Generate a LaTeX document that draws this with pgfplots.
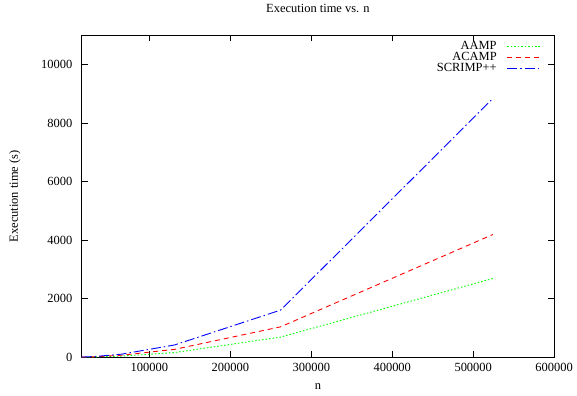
\documentclass[border=0pt]{standalone}
\usepackage{fontspec}
\setmainfont{Liberation Serif}
\usepackage{pgfplots}
\pgfplotsset{compat=1.18}
\begin{document}
\fontsize{12.5}{15}\selectfont
\begin{tikzpicture}
\begin{axis}[
  name=ax,
  scale only axis, width=474pt, height=323pt,
  xmin=16384, xmax=600000, ymin=0, ymax=11000,
  xtick={100000,200000,300000,400000,500000,600000},
  xticklabels={100000,200000,300000,400000,500000,600000},
  ytick={0,2000,4000,6000,8000,10000},
  yticklabels={0,2000,4000,6000,8000,10000},
  scaled ticks=false,
  tick align=inside, tick pos=both, major tick length=6pt,
  tick style={black, line width=0.6pt},
  axis line style={black, line width=1pt},
  minor tick num=0,
  title={Execution time vs. n},
  title style={at={(axis description cs:0.5,1)}, anchor=base, yshift=17pt},
  xlabel={n},
  xlabel style={at={(axis description cs:0.5,0)}, anchor=base, yshift=-32pt},
  ylabel={Execution time (s)},
  ylabel style={at={(axis description cs:0,0.5)}, anchor=center, yshift=67pt},
  yticklabel style={xshift=-5pt},
  xticklabel style={yshift=-2pt},
  legend plot pos=right,
  legend cell align=right,
  legend style={draw=none, fill=none, at={(0.978,0.995)}, anchor=north east,
    row sep=-3pt, inner sep=2pt, column sep=8pt},
  legend image code/.code={\draw[#1] (0cm,0cm) -- (1.2cm,0cm);},
]
\addplot[green, line width=0.9pt, dash pattern=on 1.5pt off 2pt] coordinates {
(16384,3) (32768,11) (65536,40) (131072,160) (262144,690) (524288,2692)};
\addlegendentry{AAMP}
\addplot[red, line width=0.9pt, dash pattern=on 5pt off 4pt] coordinates {
(16384,4) (32768,17) (65536,70) (131072,270) (262144,1040) (524288,4194)};
\addlegendentry{ACAMP}
\addplot[blue, line width=0.9pt, dash pattern=on 10pt off 3pt on 1.5pt off 3pt] coordinates {
(16384,6) (32768,26) (65536,105) (131072,420) (262144,1612) (524288,8842)};
\addlegendentry{SCRIMP++}
\end{axis}
\path[use as bounding box] (ax.south west) ++(-82pt,-38pt) rectangle ++(577pt,394pt);
\end{tikzpicture}
\end{document}
